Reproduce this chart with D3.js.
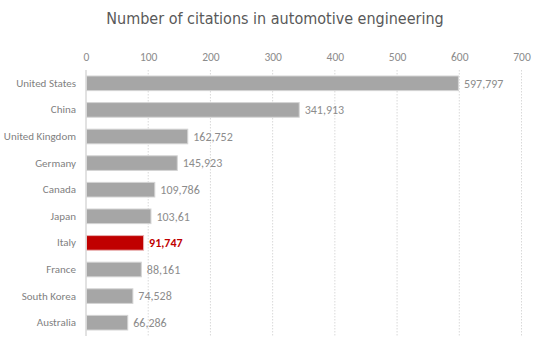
<!DOCTYPE html>
<html>
<head>
<meta charset="utf-8">
<script src="https://cdn.jsdelivr.net/npm/d3@7"></script>
<style>
html,body{margin:0;padding:0;background:#fff;}
svg{display:block;}
</style>
</head>
<body>
<svg id="chart" width="542" height="349"></svg>
<script>
const countries = ["United States","China","United Kingdom","Germany","Canada","Japan","Italy","France","South Korea","Australia"];
const citations = [597.797, 341.913, 162.752, 145.923, 109.786, 103.61, 91.747, 88.161, 74.528, 66.286];
const highlight = ["Italy"];
const tickValues = [0,100,200,300,400,500,600,700];
const title = "Number of citations in automotive engineering";

const data = countries.map((c,i)=>({country:c, value:citations[i]}));
const svg = d3.select("#chart");
const font = "Carlito, 'Liberation Sans', sans-serif";

const x = d3.scaleLinear().domain([0,700]).range([86,521.5]);
const y = d3.scaleBand().domain(countries).range([70,336]).paddingInner(0.45).paddingOuter(0.225);

const loc = d3.formatLocale({decimal:",", thousands:".", grouping:[3], currency:["",""]});
const fmt = loc.format(".3~f");

svg.append("text")
  .attr("x",275).attr("y",24)
  .attr("text-anchor","middle")
  .attr("font-family","'Trebuchet MS', 'DejaVu Sans Condensed', 'DejaVu Sans', sans-serif")
  .attr("font-stretch","condensed")
  .attr("font-size",16)
  .attr("fill","#595959")
  .text(title);

// gridlines
svg.append("g").selectAll("line").data(tickValues.filter(d=>d>0)).join("line")
  .attr("x1",d=>x(d)).attr("x2",d=>x(d))
  .attr("y1",70).attr("y2",336)
  .attr("stroke","#d9d9d9").attr("stroke-width",1)
  .attr("stroke-dasharray","1.5,1.5");

// top axis labels
const ax = svg.append("g").attr("transform","translate(0,70)")
  .call(d3.axisTop(x).tickValues(tickValues).tickSize(0).tickPadding(9).tickFormat(d3.format("d")));
ax.select(".domain").remove();
ax.selectAll("text").attr("font-family",font).attr("font-size",11.5).attr("fill","#8c8c8c");

// bars
svg.append("g").selectAll("rect").data(data).join("rect")
  .attr("x",x(0)+0.5)
  .attr("y",d=>y(d.country))
  .attr("width",d=>x(d.value)-x(0))
  .attr("height",y.bandwidth())
  .attr("fill",d=>highlight.includes(d.country)?"#c00000":"#a6a6a6")
  .attr("stroke",d=>highlight.includes(d.country)?"#e8b0b0":"#d4d4d4")
  .attr("stroke-width",1);

// left axis line
svg.append("line")
  .attr("x1",x(0)).attr("x2",x(0)).attr("y1",70).attr("y2",336)
  .attr("stroke","#d9d9d9").attr("stroke-width",1.5);

// category labels
const ay = svg.append("g").attr("transform",`translate(${x(0)},0)`)
  .call(d3.axisLeft(y).tickSize(0).tickPadding(10));
ay.select(".domain").remove();
ay.selectAll("text").attr("font-family",font).attr("font-size",11).attr("fill","#7f7f7f");

// value labels
svg.append("g").selectAll("text").data(data).join("text")
  .attr("x",d=>x(d.value)+6)
  .attr("y",d=>y(d.country)+y.bandwidth()/2)
  .attr("dy","0.35em")
  .attr("font-family",font)
  .attr("font-size",12)
  .attr("font-weight",d=>highlight.includes(d.country)?"bold":"normal")
  .attr("fill",d=>highlight.includes(d.country)?"#c00000":"#8c8c8c")
  .text(d=>fmt(d.value));
</script>
</body>
</html>
